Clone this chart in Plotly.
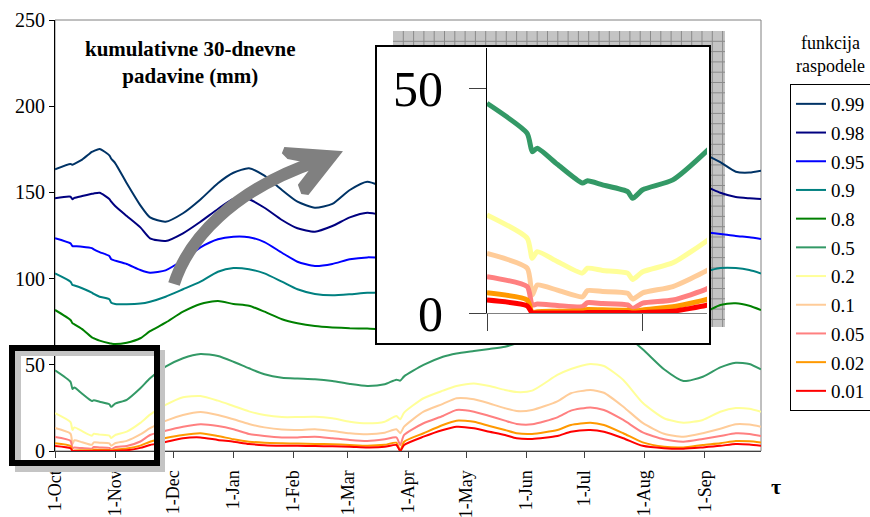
import plotly.graph_objects as go

# ---------------- data ----------------
days = [0, 8, 9, 10, 14, 19, 20, 23, 28, 29, 31, 37, 44, 49, 57, 66, 75, 84, 92, 100,
        108, 117, 125, 134, 143, 152, 161, 170, 176, 178, 180, 190, 200, 207, 216, 224,
        232, 238, 246, 259, 266, 276, 283, 293, 303, 314, 324, 334, 343, 351, 358, 364]

tick_days = [0, 31, 61, 92, 123, 151, 182, 212, 243, 273, 304, 335]
tick_labels = ["1-Oct", "1-Nov", "1-Dec", "1-Jan", "1-Feb", "1-Mar",
               "1-Apr", "1-May", "1-Jun", "1-Jul", "1-Aug", "1-Sep"]
y_ticks = [0, 50, 100, 150, 200, 250]
inset_x_ticks = [0, 31]
inset_y_ticks = [0, 50]

levels = ["0.99", "0.98", "0.95", "0.9", "0.8", "0.5", "0.2", "0.1", "0.05", "0.02", "0.01"]
colors = ["#003366", "#000080", "#0000FF", "#008080", "#008000", "#339966",
          "#FFFF99", "#FFCC99", "#FF8080", "#FF9900", "#FF0000"]

p099 = [163.4, 166.5, 166.0, 166.6, 169, 173.5, 174, 175.2, 171.5, 169.5,
        167, 155.3, 142.5, 135.5, 133, 137.9, 145.9, 155.3, 161.4, 164,
        159.7, 151.4, 144.6, 141.1, 143.3, 151.4, 156.2, 153, 152, 151.5,
        151, 152, 158, 162, 164, 162, 159, 158, 160, 168,
        173, 178, 180, 181, 180, 178, 176, 172.5, 167.5, 162,
        161.5, 162.6]
p098 = [146.6, 147.5, 146.0, 146.8, 147.9, 149.2, 149.4, 149.8, 146.2, 144.6,
        142.1, 136.3, 129.7, 123.4, 121.8, 126.3, 133.0, 140.4, 146.2, 146.0,
        141.1, 134.0, 129.2, 127.2, 130.5, 135.5, 138.2, 136.5, 135, 134.5,
        134, 136, 141, 144, 146, 144, 141, 140, 142, 148,
        152, 157, 159, 160, 160, 158, 156, 154, 149.8, 147.3,
        146.6, 146.2]
p095 = [123.4, 120.4, 118.9, 118.8, 118.5, 117.7, 117.0, 115.4, 113.1, 111.2,
        110.4, 108.5, 105.0, 103.4, 104.8, 110.8, 118.1, 122.8, 124.3, 124.0,
        121.2, 115.0, 109.8, 107.3, 108.5, 111.2, 112.3, 112, 112, 111.5,
        111, 113, 117, 120, 121, 119, 117, 116, 118, 123,
        126, 129, 130, 130, 129, 128, 127.5, 127, 125.9, 124.7,
        124, 123]
p090 = [103, 98.2, 96.3, 96, 94.4, 91.8, 91.1, 89.5, 88, 86,
        85.3, 85.1, 85.5, 86.6, 89.5, 93.8, 98.2, 104, 106.1, 105.4,
        103, 98.2, 93.8, 91.1, 90.3, 90.9, 91.8, 92, 92, 92,
        92, 93, 96, 98, 99, 98, 96, 95, 97, 102,
        105, 108, 109, 108, 106, 104, 103.5, 104, 106.1, 106.1,
        105, 103]
p080 = [81.8, 76, 74.1, 73.5, 70.7, 65.9, 65.4, 64, 62.5, 62.3,
        62, 62.8, 65.4, 69.5, 74.4, 80.8, 85.3, 87, 85.3, 84.3,
        80.8, 76.4, 74.1, 72.5, 71.7, 71.2, 71, 70.5, 70.5, 70.5,
        71, 74, 78, 80, 82, 82, 82, 83, 86, 93,
        97, 100, 100, 96, 90, 84, 80, 80.2, 84.7, 85.7,
        84.3, 81.8]
p050 = [46.8, 40.1, 36.0, 36.8, 33.2, 29.0, 29.5, 28.6, 27.1, 25.6,
        27.5, 29.7, 36.4, 42.2, 48.9, 53.8, 56.3, 55.1, 51.8, 48.0,
        44.5, 42.5, 42.0, 41.6, 40.6, 38.9, 37.7, 38.7, 41.4, 40.8,
        43.3, 49.9, 54.7, 56.6, 58.0, 59.2, 60.5, 62.5, 66, 71,
        73, 74, 73, 68, 59, 47.4, 40.6, 43.1, 48.5, 51.2,
        50.5, 47.4]
p020 = [21.9, 16.7, 12.2, 13.7, 11.5, 8.9, 10.0, 9.5, 8.9, 7.5,
        9.2, 11.2, 16.3, 21.1, 26.7, 31.2, 31.9, 29.2, 26.1, 23.0,
        20.9, 19.7, 19.7, 19.9, 19.0, 17.0, 16.1, 17.0, 20.3, 18.4,
        22.3, 30.6, 35.0, 37.7, 39.2, 37.7, 35.4, 34.2, 35.0, 44.1,
        47.6, 50.5, 49.3, 41.2, 28.0, 19.0, 16.4, 18.0, 22.8, 24.9,
        24.5, 22.8]
p010 = [13.3, 10.0, 4.0, 6.25, 5.1, 3.6, 5.0, 4.8, 4.4, 3.1,
        4.5, 5.9, 9.6, 13.2, 17.5, 20.9, 22.6, 20.9, 18.4, 15.7,
        13.7, 12.4, 12.2, 12.6, 11.6, 10.3, 9.7, 10.6, 12.6, 10.3,
        14.1, 22.8, 27.3, 30.6, 30.0, 27.6, 24.8, 23.2, 23.8, 28.8,
        33.5, 35.4, 33.8, 25.7, 16.3, 10.0, 8.3, 10.3, 12.9, 15.5,
        15.3, 14.1]
p005 = [8.1, 5.9, 1.8, 2.0, 1.7, 1.4, 2.3, 2.1, 1.8, 1.0,
        2.2, 2.9, 5.5, 9.3, 11.8, 14.1, 15.5, 14.5, 12.6, 9.9,
        8.7, 7.9, 7.9, 8.3, 7.4, 6.4, 5.8, 6.8, 7.9, 3.5,
        9.3, 16.1, 20.3, 23.8, 22.8, 20.3, 17.6, 15.7, 15.5, 19.5,
        23.4, 25.3, 23.8, 18.0, 10.8, 6.8, 5.4, 7.0, 8.7, 10.3,
        9.9, 8.7]
p002 = [4.5, 2.9, 0.1, 0.3, 0.4, 0.5, 0.8, 0.7, 0.6, 0.3,
        0.7, 1.4, 3.1, 5.4, 7.5, 9.3, 10.3, 8.7, 6.8, 5.4,
        4.8, 4.5, 4.3, 4.1, 3.9, 3.5, 3.1, 3.6, 4.8, 0.0,
        5.4, 10.3, 15.1, 17.6, 17.0, 14.5, 12.2, 10.3, 9.9, 12.2,
        15.1, 16.4, 15.1, 10.3, 5.0, 2.5, 2.1, 3.5, 4.5, 5.8,
        5.6, 5.0]
p001 = [2.9, 1.6, 0.0, 0.0, 0.0, 0.0, 0.1, 0.1, 0.1, 0.0,
        0.1, 0.4, 1.8, 3.5, 5.2, 7.4, 7.9, 6.4, 5.4, 4.1,
        3.4, 3.1, 3.0, 2.9, 2.7, 2.5, 2.1, 2.4, 3.5, 0.0,
        3.5, 8.3, 12.2, 14.1, 13.2, 11.2, 9.3, 7.4, 7.0, 8.7,
        11.2, 12.2, 11.2, 7.4, 3.0, 1.6, 1.3, 2.1, 3.0, 4.1,
        3.8, 3.1]

series = [p099, p098, p095, p090, p080, p050, p020, p010, p005, p002, p001]

# ---------------- geometry helpers ----------------
W, H = 870, 517
PX0, PX1, PY0, PY1 = 55, 761, 20, 451   # plot area in page pixels
ML = PX0
MT = PY0
MR = W - PX1
MB = H - PY1
PW = PX1 - PX0
PH = PY1 - PY0
FONT = "Liberation Serif"


def fx(px):
    return (px - PX0) / PW


def fy(py):
    return (PY1 - py) / PH


def pt(px, py):
    return f"{fx(px):.5f},{fy(py):.5f}"


fig = go.Figure()

for name, col, vals in zip(levels, colors, series):
    fig.add_trace(go.Scatter(
        x=days, y=vals, mode="lines", name=name, legendgroup=name,
        line=dict(color=col, width=2, shape="spline", smoothing=0.6),
        xaxis="x", yaxis="y", hoverinfo="skip"))

# empty trace to create inset frame subplot
fig.add_trace(go.Scatter(x=[], y=[], xaxis="x2", yaxis="y2", showlegend=False))

for name, col, vals in zip(levels, colors, series):
    fig.add_trace(go.Scatter(
        x=days, y=vals, mode="lines", name=name, legendgroup=name, showlegend=False,
        line=dict(color=col, width=5, shape="spline", smoothing=0.6),
        xaxis="x3", yaxis="y3", hoverinfo="skip"))

shapes = []
# main plot border (gray)
shapes.append(dict(type="rect", xref="paper", yref="paper", x0=0, y0=0, x1=1, y1=1,
                   line=dict(color="#808080", width=1), layer="below"))

# hatched shadow of inset
sx0, sy0, sx1, sy1 = 393, 31, 725, 327
shapes.append(dict(type="rect", xref="paper", yref="paper",
                   x0=fx(sx0), y0=fy(sy1), x1=fx(sx1), y1=fy(sy0),
                   fillcolor="#c4c4c4", line=dict(width=0), layer="below"))
grid = []
step = 10.3
g = sx0 + step
while g < sx1:
    grid.append(f"M{pt(g, sy0)}L{pt(g, sy1)}")
    g += step
g = sy0 + step
while g < sy1:
    grid.append(f"M{pt(sx0, g)}L{pt(sx1, g)}")
    g += step
shapes.append(dict(type="path", xref="paper", yref="paper", path="".join(grid),
                   line=dict(color="#8a8a8a", width=1), layer="below"))

# small frame marking zoomed region
shapes.append(dict(type="rect", xref="paper", yref="paper",
                   x0=fx(18), y0=fy(469), x1=fx(162), y1=fy(353),
                   line=dict(color="#c4c4c4", width=6), layer="above"))
shapes.append(dict(type="rect", xref="paper", yref="paper",
                   x0=fx(12), y0=fy(463), x1=fx(157), y1=fy(348),
                   line=dict(color="black", width=6), layer="above"))

# gray arrow
shapes.append(dict(type="path", xref="paper", yref="paper",
                   path=f"M{pt(174, 284)}C{pt(188, 240)} {pt(232, 190)} {pt(318, 161)}",
                   line=dict(color="#808080", width=12), layer="above"))
shapes.append(dict(type="path", xref="paper", yref="paper",
                   path=(f"M{pt(341, 152)}L{pt(285, 148)}L{pt(283, 153)}L{pt(288, 158)}"
                         f"L{pt(308, 162)}L{pt(312, 168)}L{pt(299, 185)}L{pt(302, 193)}"
                         f"L{pt(308, 194)}Z"),
                   fillcolor="#808080", line=dict(color="#808080", width=2), layer="above"))

annotations = [
    dict(text="<b>kumulativne 30-dnevne<br>padavine (mm)</b>", xref="paper", yref="paper",
         x=fx(190), y=fy(62), xanchor="center", yanchor="middle", showarrow=False,
         font=dict(family=FONT, size=21, color="black")),
    dict(text="funkcija<br>raspodele", xref="paper", yref="paper",
         x=fx(830), y=fy(55), xanchor="center", yanchor="middle", showarrow=False,
         font=dict(family=FONT, size=18, color="black")),
    dict(text="<b>τ</b>", xref="paper", yref="paper",
         x=fx(776), y=fy(486), xanchor="center", yanchor="middle", showarrow=False,
         font=dict(family=FONT, size=22, color="black")),
]

fig.update_layout(
    width=W, height=H,
    margin=dict(l=ML, r=MR, t=MT, b=MB, pad=0, autoexpand=False),
    paper_bgcolor="white", plot_bgcolor="white",
    font=dict(family=FONT, size=18, color="black"),
    showlegend=True,
    legend=dict(x=fx(790), y=fy(84), xanchor="left", yanchor="top",
                bordercolor="black", borderwidth=1, bgcolor="white",
                font=dict(family=FONT, size=19, color="black"),
                tracegroupgap=1.0, itemwidth=30),
    xaxis=dict(domain=[0, 1], range=[0, 364], tickmode="array", tickvals=tick_days,
               ticktext=tick_labels, tickangle=-90, ticks="outside", ticklen=6,
               tickcolor="#404040", showline=True, linecolor="#404040", linewidth=1,
               showgrid=False, zeroline=False, automargin=False, ticklabelstandoff=5,
               tickfont=dict(family=FONT, size=18, color="black")),
    yaxis=dict(domain=[0, 1], range=[0, 250], tickmode="array", tickvals=y_ticks,
               ticks="outside", ticklen=5, tickcolor="black", showline=True,
               linecolor="black", linewidth=1, showgrid=False, zeroline=False,
               automargin=False, tickfont=dict(family=FONT, size=20, color="black")),
    xaxis2=dict(domain=[fx(377), fx(709)], range=[0, 1], anchor="y2", showline=True,
                mirror=True, linecolor="black", linewidth=2, showticklabels=False,
                ticks="", showgrid=False, zeroline=False, fixedrange=True),
    yaxis2=dict(domain=[fy(343), fy(47)], range=[0, 1], anchor="x2", showline=True,
                mirror=True, linecolor="black", linewidth=2, showticklabels=False,
                ticks="", showgrid=False, zeroline=False, fixedrange=True),
    xaxis3=dict(domain=[fx(487), fx(707)], range=[0, 43.8], anchor="y3",
                tickmode="array", tickvals=inset_x_ticks, showticklabels=False,
                ticks="outside", ticklen=17, tickcolor="#404040", showline=True,
                linecolor="#808080", linewidth=1, showgrid=False, zeroline=False),
    yaxis3=dict(domain=[fy(313), fy(48)], range=[0, 59.15], anchor="x3",
                tickmode="array", tickvals=inset_y_ticks, ticks="outside", ticklen=17,
                tickcolor="#404040", showline=True, linecolor="black", linewidth=1,
                showgrid=False, zeroline=False, ticklabelstandoff=16,
                tickfont=dict(family=FONT, size=50, color="black")),
    shapes=shapes,
    annotations=annotations,
)

page_css = ("document.documentElement.style.margin='0';"
            "document.documentElement.style.overflow='hidden';"
            "document.body.style.margin='0';"
            "document.body.style.padding='0';"
            "document.body.style.overflow='hidden';")

fig.write_html("out.html", post_script=page_css,
               config={"displayModeBar": False, "staticPlot": True})
